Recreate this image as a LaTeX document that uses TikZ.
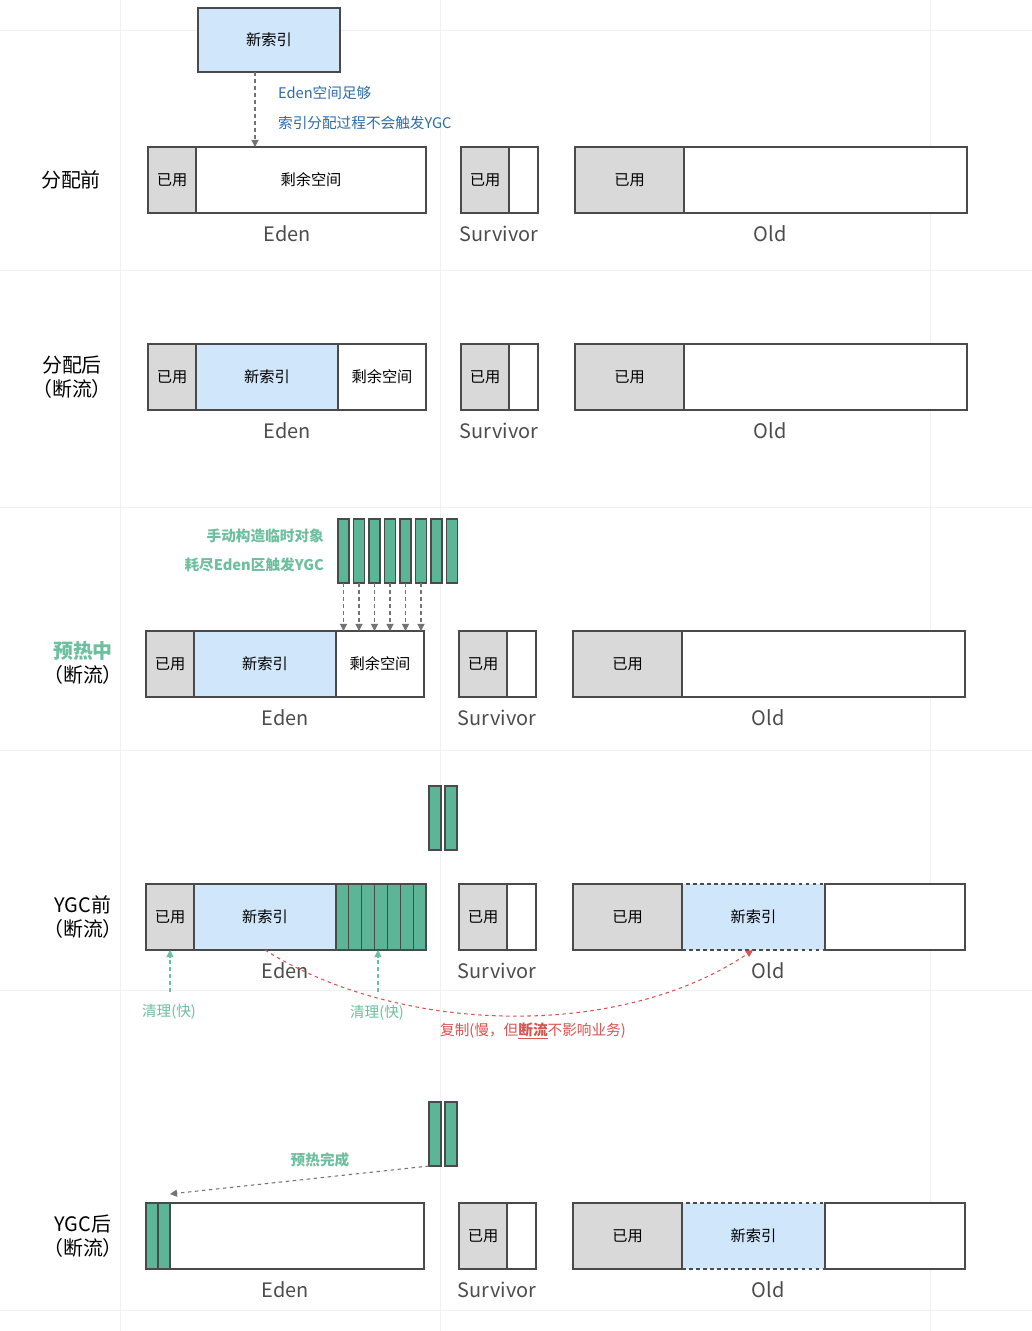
\documentclass[tikz,border=0pt]{standalone}
\usepackage{fontspec}
\setmainfont{Noto Sans CJK SC}
\usetikzlibrary{arrows.meta}
\definecolor{usedgray}{HTML}{D9D9D9}
\definecolor{idxblue}{HTML}{CFE6FB}
\definecolor{tmpgreen}{HTML}{5BB596}
\definecolor{txtgreen}{HTML}{6DBF9F}
\definecolor{txtblue}{HTML}{2B6CA8}
\definecolor{txtred}{HTML}{D9534F}
\definecolor{edge}{HTML}{4A4A4A}
\tikzset{
  blk/.style={draw=edge, line width=1.3pt, inner sep=0pt, outer sep=0pt, anchor=north west, font=\fontsize{13}{13}\selectfont},
  used/.style={blk, fill=usedgray},
  free/.style={blk, fill=white},
  idx/.style={blk, fill=idxblue},
  idxd/.style={blk, fill=idxblue, dashed},
  tmp/.style={blk, fill=tmpgreen, line width=1pt},
  area/.style={font=\fontsize{17}{17}\selectfont, text=black!70},
  side/.style={font=\fontsize{17}{20}\selectfont, align=center},
  note/.style={font=\fontsize{12.5}{12.5}\selectfont},
  fall/.style={dashed, draw=black!55, line width=0.9pt, -{Triangle[length=6pt,width=6pt]}},
}
% block: style, name, x, y, w, h, text
\newcommand{\blk}[7]{\node[#1, minimum width=#5*0.03cm, minimum height=#6*0.03cm] (#2) at ({#3},{#4}) {#7};}
% one row of Survivor/Old boxes and labels, dx = shift, y = top
\newcommand{\heap}[3]{%
  \blk{used}{s#1u}{459+#2}{#3}{48}{66}{已用}
  \blk{free}{s#1f}{507+#2}{#3}{29}{66}{}
  \blk{used}{o#1u}{573+#2}{#3}{109}{66}{已用}
  \node[area] (e#1l) at ({285+#2},{#3+87}) {Eden};
  \node[area] (s#1l) at ({497+#2},{#3+87}) {Survivor};
  \node[area] (o#1l) at ({768+#2},{#3+87}) {Old};
}
\begin{document}
\begin{tikzpicture}[x=0.03cm, y=-0.03cm]
\fill[white] (0,0) rectangle (1032,1331);
\useasboundingbox (0,0) rectangle (1032,1331);
% faint grid
\foreach \gx in {120,440,930} \draw[black!6, line width=0.8pt] (\gx,0) -- (\gx,1331);
\foreach \gy in {30,270,507,750,990,1310} \draw[black!6, line width=0.8pt] (0,\gy) -- (1032,\gy);

% row 1: before allocation
\blk{idx}{top}{198}{8}{142}{64}{新索引}
\blk{used}{e1u}{148}{147}{48}{66}{已用}
\blk{free}{e1f}{196}{147}{230}{66}{剩余空间}
\blk{free}{o1f}{684}{147}{283}{66}{}
\heap{1}{2}{147}
\node[side] (l1) at (71,180) {分配前};
\coordinate (t1) at (255,147);
\draw[fall] (top.south -| t1) -- (t1);
\node[note, text=txtblue, anchor=west] (n1a) at (274,93) {Eden空间足够};
\node[note, text=txtblue, anchor=west] (n1b) at (274,123) {索引分配过程不会触发YGC};

% row 2: after allocation
\blk{used}{e2u}{148}{344}{48}{66}{已用}
\blk{idx}{e2i}{196}{344}{142}{66}{新索引}
\blk{free}{e2f}{338}{344}{88}{66}{剩余空间}
\blk{free}{o2f}{684}{344}{283}{66}{}
\heap{2}{2}{344}
\node[side] (l2) at (72,377) {分配后\\（断流）};

% row 3: warming up
\blk{used}{e3u}{146}{631}{48}{66}{已用}
\blk{idx}{e3i}{194}{631}{142}{66}{新索引}
\blk{free}{e3f}{336}{631}{88}{66}{剩余空间}
\blk{free}{o3f}{682}{631}{283}{66}{}
\heap{3}{0}{631}
\node[side] (l3) at (83,663) {\textcolor{txtgreen}{\textbf{预热中}}\\（断流）};
\foreach \i in {0,...,7} {
  \blk{tmp}{b\i}{338+\i*15.5}{519}{11}{64}{}
}
\foreach \i in {0,...,5} {
  \draw[fall] (b\i.south) -- (b\i.south |- e3f.north);
}
\node[note, text=txtgreen, anchor=east, font=\bfseries\fontsize{12.5}{12.5}\selectfont] (n3a) at (328,536) {手动构造临时对象};
\node[note, text=txtgreen, anchor=east, font=\bfseries\fontsize{12.5}{12.5}\selectfont] (n3b) at (328,565) {耗尽Eden区触发YGC};

% pair of objects between rows
\blk{tmp}{p1a}{429}{786}{12}{64}{}
\blk{tmp}{p1b}{445}{786}{12}{64}{}

% row 4: before YGC
\blk{used}{e4u}{146}{884}{48}{66}{已用}
\blk{idx}{e4i}{194}{884}{142}{66}{新索引}
\foreach \i in {0,...,6} {
  \blk{tmp}{g\i}{336+\i*12.86}{884}{12.86}{66}{}
}
\blk{idxd}{o4i}{682}{884}{143}{66}{新索引}
\blk{free}{o4f}{825}{884}{140}{66}{}
\heap{4}{0}{884}
\node[side] (l4) at (83,917) {YGC前\\（断流）};
\coordinate (c4a) at (170,992);
\coordinate (c4b) at (378,992);
\draw[fall, draw=txtgreen] (c4a) -- (c4a |- e4u.south);
\draw[fall, draw=txtgreen] (c4b) -- (c4b |- e4u.south);
\node[note, text=txtgreen] (n4a) at (169,1012) {清理(快)};
\node[note, text=txtgreen] (n4b) at (377,1013) {清理(快)};
\coordinate (r4a) at (265,950);
\coordinate (r4b) at (753,950);
\draw[dashed, draw=txtred, line width=0.9pt, -{Triangle[length=6pt,width=6pt]}] (r4a) .. controls (400,1035) and (620,1040) .. (r4b);
\node[note, text=txtred] (n4c) at (533,1031) {复制(慢，但\underline{\textbf{断流}}不影响业务)};

% pair of objects between rows
\blk{tmp}{p2a}{429}{1102}{12}{64}{}
\blk{tmp}{p2b}{445}{1102}{12}{64}{}

% row 5: after YGC
\blk{free}{e5f}{146}{1203}{278}{66}{}
\blk{tmp}{h0}{146}{1203}{12}{66}{}
\blk{tmp}{h1}{158}{1203}{12}{66}{}
\blk{idxd}{o5i}{682}{1203}{143}{66}{新索引}
\blk{free}{o5f}{825}{1203}{140}{66}{}
\heap{5}{0}{1203}
\node[side] (l5) at (83,1236) {YGC后\\（断流）};
\coordinate (w5) at (170,1194);
\draw[fall] (p2a.south west) -- (w5);
\node[note, text=txtgreen, font=\bfseries\fontsize{12.5}{12.5}\selectfont] (n5) at (320,1160) {预热完成};
\end{tikzpicture}
\end{document}
